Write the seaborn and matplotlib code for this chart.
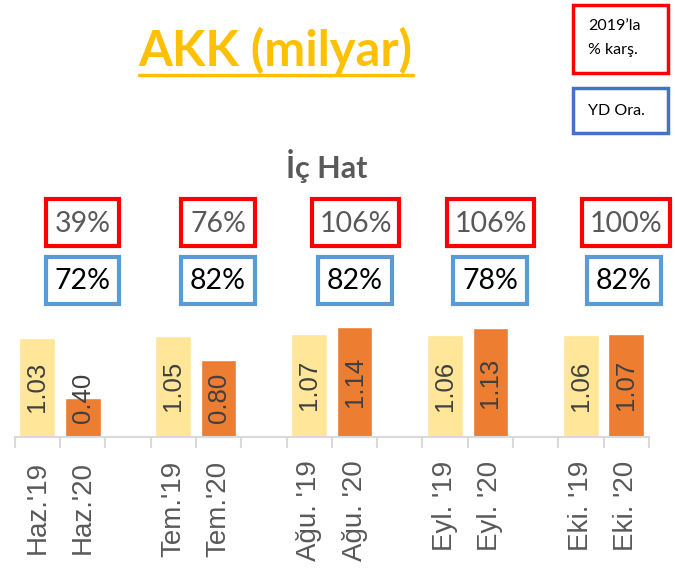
import matplotlib
matplotlib.use("Agg")
import matplotlib.pyplot as plt
import seaborn as sns
import pandas as pd
from matplotlib.patches import Rectangle
from matplotlib.lines import Line2D

# ---- data ----
categories = ["Haz.'19", "Haz.'20", " ", "Tem.'19", "Tem.'20", "  ",
              "Ağu. '19", "Ağu. '20", "   ", "Eyl. '19", "Eyl. '20", "    ",
              "Eki. '19", "Eki. '20"]
bar_cats = ["Haz.'19", "Haz.'20", "Tem.'19", "Tem.'20", "Ağu. '19", "Ağu. '20",
            "Eyl. '19", "Eyl. '20", "Eki. '19", "Eki. '20"]
bar_years = ["2019", "2020"] * 5
bar_values = [1.03, 0.40, 1.05, 0.80, 1.07, 1.14, 1.06, 1.13, 1.06, 1.07]
vs2019 = ["39%", "76%", "106%", "106%", "100%"]
yd_ratio = ["72%", "82%", "82%", "78%", "82%"]

df = pd.DataFrame({"cat": bar_cats, "year": bar_years, "value": bar_values})

sns.set_style("white")
plt.rcParams['font.family'] = ['Liberation Sans', 'DejaVu Sans']

fig = plt.figure(figsize=(6.75, 5.7), dpi=100)
W, H = 675, 570
ax = fig.add_axes([14.7 / W, 1 - 437 / H, (649 - 14.7) / W, 115.8 / H])

sns.barplot(data=df, x="cat", y="value", hue="year", order=categories,
            palette={"2019": "#FFE699", "2020": "#ED7D31"}, dodge=False,
            width=0.79, legend=False, ax=ax, saturation=1)
ax.set_ylim(0, 1.2)
ax.set_xlim(-0.5, len(categories) - 0.5)
ax.set_xlabel("")
ax.set_ylabel("")
ax.set_yticks([])
for s in ["top", "right", "left"]:
    ax.spines[s].set_visible(False)
ax.spines["bottom"].set_color("#d9d9d9")
ax.spines["bottom"].set_linewidth(1.5)

ax.set_xticks(range(len(categories)))
ax.set_xticklabels(categories, rotation=90, fontsize=20, color="#595959")
ax.tick_params(axis="x", which="major", length=0, pad=17)
ax.set_xticks([i - 0.5 for i in range(len(categories) + 1)], minor=True)
ax.tick_params(axis="x", which="minor", length=8, width=1.5, color="#d9d9d9",
               direction="out", bottom=True)

# value labels
for c, v in zip(bar_cats, bar_values):
    xi = categories.index(c)
    ax.text(xi, max(v / 2, 0.41), f"{v:.2f}", rotation=90, ha="center",
            va="center", fontsize=18.5, color="#404040")

# ---- title & texts ----
def fx(px):
    return px / W

def fy(py):
    return 1 - py / H

title = fig.text(fx(275.5), fy(50), "AKK (milyar)", ha="center", va="center",
                 fontsize=35.2, fontweight="bold", color="#FFC000",
                 family=["Lato", "DejaVu Sans"])
fig.canvas.draw()
bb = title.get_window_extent()
fig.add_artist(Line2D([bb.x0 / W, bb.x1 / W], [fy(75), fy(75)],
                      color="#FFC000", linewidth=2.5, transform=fig.transFigure))

fig.text(fx(327), fy(166), "İç Hat", ha="center", va="center", fontsize=22,
         fontweight="bold", color="#595959", family=["Lato", "DejaVu Sans"])

# legend boxes
def box(x0, y0, x1, y1, color, lw=2.5):
    fig.add_artist(Rectangle((fx(x0), fy(y1)), fx(x1) - fx(x0), fy(y0) - fy(y1),
                             transform=fig.transFigure, fill=False,
                             edgecolor=color, linewidth=lw))

box(573, 5, 668, 73, "#FF0000")
fig.text(fx(588), fy(26), "2019’la", ha="left", va="center", fontsize=11.5,
         color="black", family=["Lato", "DejaVu Sans"])
fig.text(fx(588), fy(50), "% karş.", ha="left", va="center", fontsize=11.5,
         color="black", family=["Lato", "DejaVu Sans"])
box(573, 88, 668, 133, "#4472C4")
fig.text(fx(588), fy(111), "YD Ora.", ha="left", va="center", fontsize=11.5,
         color="black", family=["Lato", "DejaVu Sans"])

red_x = [(46, 119), (181, 255), (312, 399), (447, 534), (582, 670)]
blue_x = [(46, 119), (181, 255), (318, 392), (453, 527), (587, 661)]
for (x0, x1), t in zip(red_x, vs2019):
    box(x0, 199, x1, 246, "#FF0000", lw=3)
    fig.text(fx((x0 + x1) / 2), fy(224), t, ha="center", va="center",
             fontsize=20.5, color="#595959", family=["Lato", "DejaVu Sans"])
for (x0, x1), t in zip(blue_x, yd_ratio):
    box(x0, 257, x1, 304, "#5B9BD5", lw=3)
    fig.text(fx((x0 + x1) / 2), fy(281), t, ha="center", va="center",
             fontsize=20.5, color="black", family=["Lato", "DejaVu Sans"])

fig.savefig("out.png", dpi=100)
